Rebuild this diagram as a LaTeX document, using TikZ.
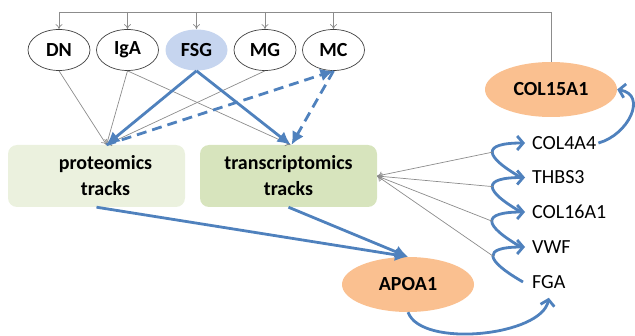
\documentclass[tikz,border=0pt]{standalone}
\usepackage{fontspec}
\setmainfont{Carlito}
\usetikzlibrary{shapes.geometric}
\usetikzlibrary{arrows.meta}
\usetikzlibrary{positioning}

\definecolor{officeblue}{HTML}{4F81BD}
\definecolor{paleblue}{HTML}{C6D5EF}
\definecolor{peach}{HTML}{FAC090}
\definecolor{palegreen}{HTML}{EBF1DE}
\definecolor{sagegreen}{HTML}{D7E4BD}
\definecolor{linegray}{HTML}{8C8C8C}

\begin{document}
\begin{tikzpicture}[x=1pt,y=1pt,
  every node/.style={font=\fontsize{20}{26}\selectfont\bfseries},
  sample/.style={draw=black!75,line width=0.7,ellipse,minimum width=62,minimum height=41,inner sep=0},
  hub/.style={ellipse,fill=peach,minimum width=132,minimum height=55,inner sep=0},
  track/.style={rounded corners=9,minimum width=177,minimum height=62,align=center,inner sep=0},
  gene/.style={font=\fontsize{20}{24}\selectfont,anchor=west,inner sep=2},
  greyline/.style={linegray,line width=0.7},
  greyarrow/.style={greyline,-{To[length=5,width=7]}},
  bluearrow/.style={officeblue,line width=2.8,-{Latex[length=13,width=13]}},
  curlarrow/.style={officeblue,line width=2.8,-{Straight Barb[length=6,width=14]}}]
  \useasboundingbox (0,0) rectangle (635,335);
  % samples
  \node[sample] (dn) at (59,285) {DN};
  \node[sample] (iga) at (127.5,285) {IgA};
  \node[sample,draw=none,fill=paleblue] (fsg) at (196.5,285) {FSG};
  \node[sample] (mg) at (265,285) {MG};
  \node[sample] (mc) at (333.5,285) {MC};
  \node[hub] (col15) at (551,245.5) {COL15A1};
  % tracks
  \node[track,fill=palegreen] (prot) at (96.5,159) {\hspace*{18pt}proteomics\\\hspace*{18pt}tracks};
  \node[track,fill=sagegreen] (trans) at (288.5,159) {transcriptomics\\tracks};
  \node[hub] (apoa) at (408,50.5) {APOA1};
  % genes
  \node[gene] (col4) at (530,192) {COL4A4};
  \node[gene] (thbs) at (530,157.5) {THBS3};
  \node[gene] (col16) at (530,123) {COL16A1};
  \node[gene] (vwf) at (530,88) {VWF};
  \node[gene] (fga) at (530,53) {FGA};
  \coordinate (bus) at (0,323);
  \coordinate (ptip) at ([xshift=10]prot.north);
  % top line
  \draw[greyline] (dn.north |- bus) -- (col15.north |- bus) -- (col15.north);
  \foreach \s in {dn,iga,fsg,mg,mc}
    \draw[greyarrow] (\s.north |- bus) -- (\s.north);
  \draw[greyarrow] (dn.south) -- (ptip);
  \draw[greyarrow] (iga.south) -- (ptip);
  \draw[greyarrow] (mg.south) -- (ptip);
  \draw[greyarrow] (iga.south) -- ([xshift=2]trans.north);
  \draw[bluearrow] (fsg.south) -- (ptip);
  \draw[bluearrow] (fsg.south) -- ([xshift=2]trans.north);
  \draw[bluearrow,dash pattern=on 10 off 6] (ptip) -- (mc.south);
  \draw[bluearrow,dash pattern=on 10 off 6] (mc.south) -- ([xshift=3]trans.north);
  \draw[bluearrow] (prot.south) -- (apoa.north);
  \draw[bluearrow] (trans.south) -- (apoa.north);
  % gene chain
  \draw[curlarrow] ([xshift=-7]fga.west) to[out=150,in=180,looseness=3.2] coordinate[pos=0.5] (m4) ([xshift=-5]vwf.west);
  \draw[curlarrow] ([xshift=-9]vwf.west) to[out=150,in=180,looseness=3.2] coordinate[pos=0.5] (m3) ([xshift=-5]col16.west);
  \draw[curlarrow] ([xshift=-9]col16.west) to[out=150,in=180,looseness=3.2] coordinate[pos=0.5] (m2) ([xshift=-5]thbs.west);
  \draw[curlarrow] ([xshift=-9]thbs.west) to[out=150,in=180,looseness=3.2] coordinate[pos=0.5] (m1) ([xshift=-5]col4.west);
  \foreach \m in {m1,m2,m3,m4}
    \draw[greyarrow] (\m) -- (trans.east);
  \draw[curlarrow] (col4.east) to[out=15,in=-10,looseness=1.4] (col15.east);
  \draw[curlarrow] (apoa.south) to[out=-70,in=-100,looseness=0.7] ([yshift=-7]fga.south);
\end{tikzpicture}
\end{document}
